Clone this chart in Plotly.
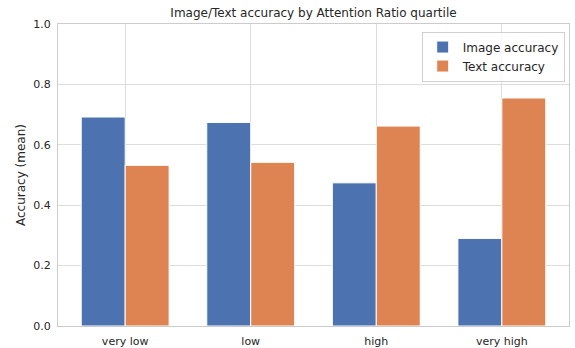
import plotly.graph_objects as go

categories = ["very low", "low", "high", "very high"]
image_acc = [0.692, 0.674, 0.474, 0.290]
text_acc = [0.532, 0.542, 0.662, 0.755]
y_ticks = [0.0, 0.2, 0.4, 0.6, 0.8, 1.0]

BLUE = "#4C72B0"
ORANGE = "#DD8452"
FONT = "DejaVu Sans"
TXT = "#262626"

fig = go.Figure()
fig.add_trace(go.Bar(x=categories, y=image_acc, name="Image accuracy",
                     marker=dict(color=BLUE, line=dict(color="white", width=1))))
fig.add_trace(go.Bar(x=categories, y=text_acc, name="Text accuracy",
                     marker=dict(color=ORANGE, line=dict(color="white", width=1))))

fig.update_layout(
    width=575, height=348,
    margin=dict(l=58, r=6, t=24, b=22, autoexpand=False),
    paper_bgcolor="white", plot_bgcolor="white",
    barmode="group", bargap=0.3, bargroupgap=0,
    font=dict(family=FONT, color=TXT, size=11),
    title=dict(text="Image/Text accuracy by Attention Ratio quartile",
               x=0.5, xref="paper", xanchor="center", y=1 - 13/348, yanchor="middle",
               font=dict(size=12, color=TXT)),
    legend=dict(x=0.9916, y=0.975, xanchor="right", yanchor="top",
                bgcolor="rgba(255,255,255,0.8)", bordercolor="#d0d0d0", borderwidth=1,
                font=dict(size=12, color=TXT), itemwidth=30, tracegroupgap=0),
    xaxis=dict(range=[-0.535, 3.535], showgrid=True, gridcolor="#dddddd", gridwidth=1,
               showline=True, linecolor="#cccccc", linewidth=1, mirror=True,
               ticks="outside", ticklen=5, tickcolor="rgba(0,0,0,0)",
               tickfont=dict(size=11, color=TXT), automargin=False),
    yaxis=dict(range=[0, 1.0], tickvals=y_ticks, ticktext=[f"{v:.1f}" for v in y_ticks],
               showgrid=True, gridcolor="#dddddd", gridwidth=1, zeroline=False,
               showline=True, linecolor="#cccccc", linewidth=1, mirror=True,
               ticks="outside", ticklen=4, tickcolor="rgba(0,0,0,0)",
               tickfont=dict(size=11, color=TXT), automargin=False,
               title=dict(text="Accuracy (mean)", font=dict(size=12, color=TXT), standoff=5)),
)

fig.write_html("out.html", config={"displayModeBar": False},
               post_script="document.body.style.margin='0';document.body.style.padding='0';")
